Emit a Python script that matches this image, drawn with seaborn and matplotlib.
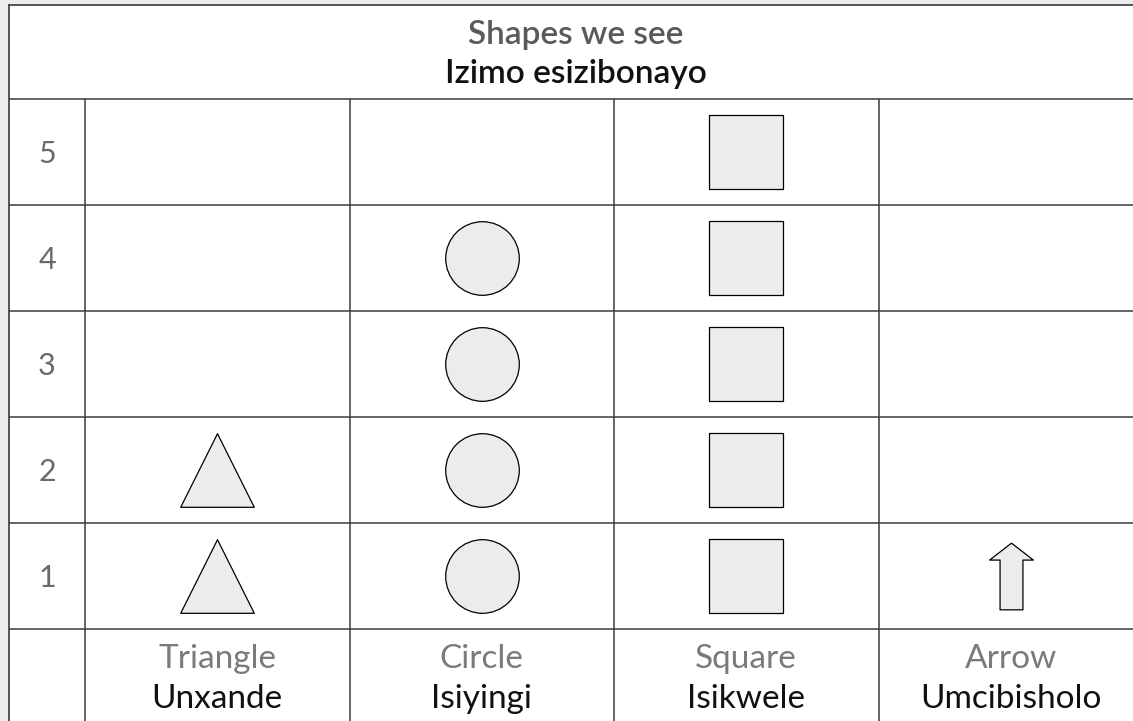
import matplotlib
matplotlib.use("Agg")
import matplotlib.pyplot as plt
import seaborn as sns
import pandas as pd
import numpy as np
from matplotlib.path import Path
from matplotlib.markers import MarkerStyle

# chart data
shapes_en = ["Triangle", "Circle", "Square", "Arrow"]
shapes_xh = ["Unxande", "Isiyingi", "Isikwele", "Umcibisholo"]
counts = [2, 4, 5, 1]
row_labels = [1, 2, 3, 4, 5]
title_en = "Shapes we see"
title_xh = "Izimo esizibonayo"

# one record per drawn symbol
records = []
for i, (name, n) in enumerate(zip(shapes_en, counts)):
    for k in range(1, n + 1):
        records.append({"shape": name, "col": i, "row": k})
df = pd.DataFrame(records)

sns.set_theme(style="white")
plt.rcParams["font.family"] = ["Lato", "DejaVu Sans"]

W, H = 1133, 721
fig = plt.figure(figsize=(W / 100, H / 100), dpi=100, facecolor="#ececec")
# table area: left border at px 9, top border at px 5
ax = fig.add_axes([9 / W, 0, 1 - 9 / W, 1 - 5 / H], facecolor="white")

col_w = 264.5   # px per shape column
row_h = 106.0   # px per count row
label_w = 76.0  # px of the number column
x_left = -0.5 - label_w / col_w
x_right = -0.5 + (W - 85) / col_w
y_bottom = 0.5 - (H - 629) / row_h
y_top = 0.5 + (629 - 5) / row_h
title_bottom = len(row_labels) + 0.5

ax.set_xlim(x_left, x_right)
ax.set_ylim(y_bottom, y_top)
ax.set_xticks([])
ax.set_yticks([])
for side in ["right", "bottom"]:
    ax.spines[side].set_visible(False)
for side in ["left", "top"]:
    ax.spines[side].set_color("#3a3a3a")
    ax.spines[side].set_linewidth(1.2)

line_kw = dict(color="#3a3a3a", linewidth=1.1, zorder=1)
ax.hlines(np.arange(0.5, title_bottom + 0.1, 1.0), x_left, x_right + 1, **line_kw)
ax.vlines(np.arange(-0.5, len(shapes_en) - 0.5, 1.0), y_bottom, title_bottom, **line_kw)

# arrow marker outline
arrow = Path([(-11.5, -33.5), (11.5, -33.5), (11.5, 16.5), (22, 16.5), (0, 33.5),
              (-22, 16.5), (-11.5, 16.5), (-11.5, -33.5)],
             [Path.MOVETO] + [Path.LINETO] * 6 + [Path.CLOSEPOLY])
markers = {"Triangle": "^", "Circle": "o", "Square": "s", "Arrow": MarkerStyle(arrow)}
sizes = {"Triangle": 53, "Circle": 53, "Square": 53, "Arrow": 48}

for name in shapes_en:
    sub = df[df["shape"] == name]
    sns.scatterplot(data=sub, x="col", y="row", marker=markers[name],
                    s=sizes[name] ** 2, color="#ececec", edgecolor="black",
                    linewidth=0.9, ax=ax, zorder=3, legend=False)
ax.set_xlabel("")
ax.set_ylabel("")

# row numbers
num_x = (x_left - 0.5) / 2
for r in row_labels:
    ax.text(num_x, r - 11 / row_h, str(r), ha="center", va="baseline",
            fontsize=22, color="#6a6a6a", fontweight="normal")

# column names
for i, (en, xh) in enumerate(zip(shapes_en, shapes_xh)):
    ax.text(i, 0.5 - 39 / row_h, en, ha="center", va="baseline",
            fontsize=24, color="#7a7a7a", fontweight="normal")
    ax.text(i, 0.5 - 79 / row_h, xh, ha="center", va="baseline",
            fontsize=24, color="#111111", fontweight="normal")

# title
tx = (x_left + len(shapes_en) - 0.5) / 2
ax.text(tx, 0.5 + (629 - 44) / row_h, title_en, ha="center", va="baseline",
        fontsize=24, color="#5a5a5a", fontweight="semibold")
ax.text(tx, 0.5 + (629 - 83) / row_h, title_xh, ha="center", va="baseline",
        fontsize=24, color="#111111", fontweight="semibold")

fig.savefig("out.png", dpi=100, facecolor=fig.get_facecolor())
